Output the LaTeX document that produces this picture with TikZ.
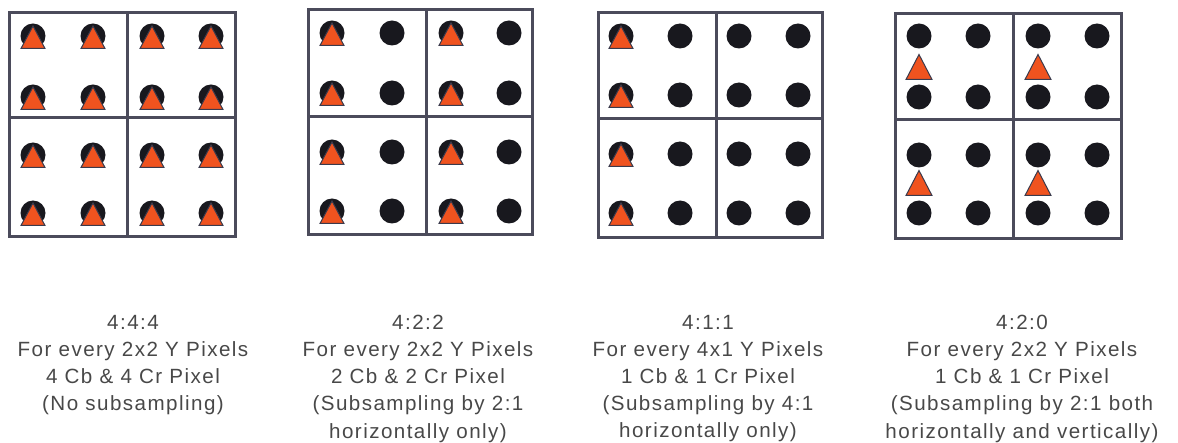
\documentclass[tikz,border=0pt]{standalone}
\usepackage{fontspec}
\newfontfamily\lblfont[LetterSpace=7]{Liberation Sans}
\definecolor{gridc}{HTML}{4B4B5B}
\definecolor{dotc}{HTML}{18181E}
\definecolor{trif}{HTML}{F0531F}
\definecolor{tric}{HTML}{3A3A4C}
\definecolor{txtc}{HTML}{484848}
\tikzset{
  gridline/.style={draw=gridc, line width=1.5pt},
  ydot/.style={fill=dotc, draw=none},
  chroma/.style={fill=trif, draw=tric, line width=0.5pt, line join=miter},
  lbl/.style={anchor=north, inner sep=0pt, align=center, text=txtc,
    font=\lblfont\fontsize{10.3}{13.6}\selectfont},
  pics/lumadot/.style={code={\fill[ydot] (0,0) circle (12.5);}},
  pics/bell/.style={code={
    \fill[ydot] (0,0) circle (12.5);
    \path[chroma] (0,-10) -- (12,12.5) -- (-12,12.5) -- cycle;}},
  pics/tri/.style={code={
    \path[chroma] (0,-12.5) -- (13,12.5) -- (-13,12.5) -- cycle;}}
}
\begin{document}
\begin{tikzpicture}[x=0.5pt, y=-0.5pt]
\useasboundingbox (0,0) rectangle (1178,443);
% ---------- grid 1 : 4:4:4 ----------
\foreach \x in {33,93,152,211}
  \foreach \y in {36,97,155,213}
    \pic at (\x,\y) {bell};
\draw[gridline] (9,13) rectangle (235,237);
\draw[gridline] (127,13) -- (127,237) (9,118) -- (235,118);
% ---------- grid 2 : 4:2:2 ----------
\foreach \x in {332,451}
  \foreach \y in {33,93,152,211}
    \pic at (\x,\y) {bell};
\foreach \x in {392,509}
  \foreach \y in {33,93,152,211}
    \pic at (\x,\y) {lumadot};
\draw[gridline] (308,10) rectangle (532,235);
\draw[gridline] (426,10) -- (426,235) (308,117) -- (532,117);
% ---------- grid 3 : 4:1:1 ----------
\foreach \y in {36,95,154,213}
  \pic at (621,\y) {bell};
\foreach \x in {680,739,798}
  \foreach \y in {36,95,154,213}
    \pic at (\x,\y) {lumadot};
\draw[gridline] (598,13) rectangle (822,238);
\draw[gridline] (716,13) -- (716,238) (598,119) -- (822,119);
% ---------- grid 4 : 4:2:0 ----------
\foreach \x in {919,978,1038,1097}
  \foreach \y in {36,97,155,213}
    \pic at (\x,\y) {lumadot};
\foreach \x in {919,1038}
  \foreach \y in {67,183}
    \pic at (\x,\y) {tri};
\draw[gridline] (895,14) rectangle (1121,239);
\draw[gridline] (1013,14) -- (1013,239) (895,120) -- (1121,120);
% ---------- labels ----------
\node[lbl] (t444) at (133,314.5) {4:4:4\\For every 2x2 Y Pixels\\4 Cb \& 4 Cr Pixel\\(No subsampling)};
\node[lbl] (t422) at (418,314.5) {4:2:2\\For every 2x2 Y Pixels\\2 Cb \& 2 Cr Pixel\\(Subsampling by 2:1\\horizontally only)};
\node[lbl] (t411) at (708,314.5) {4:1:1\\For every 4x1 Y Pixels\\1 Cb \& 1 Cr Pixel\\(Subsampling by 4:1\\horizontally only)};
\node[lbl] (t420) at (1022,314.5) {4:2:0\\For every 2x2 Y Pixels\\1 Cb \& 1 Cr Pixel\\(Subsampling by 2:1 both\\horizontally and vertically)};
\end{tikzpicture}
\end{document}
